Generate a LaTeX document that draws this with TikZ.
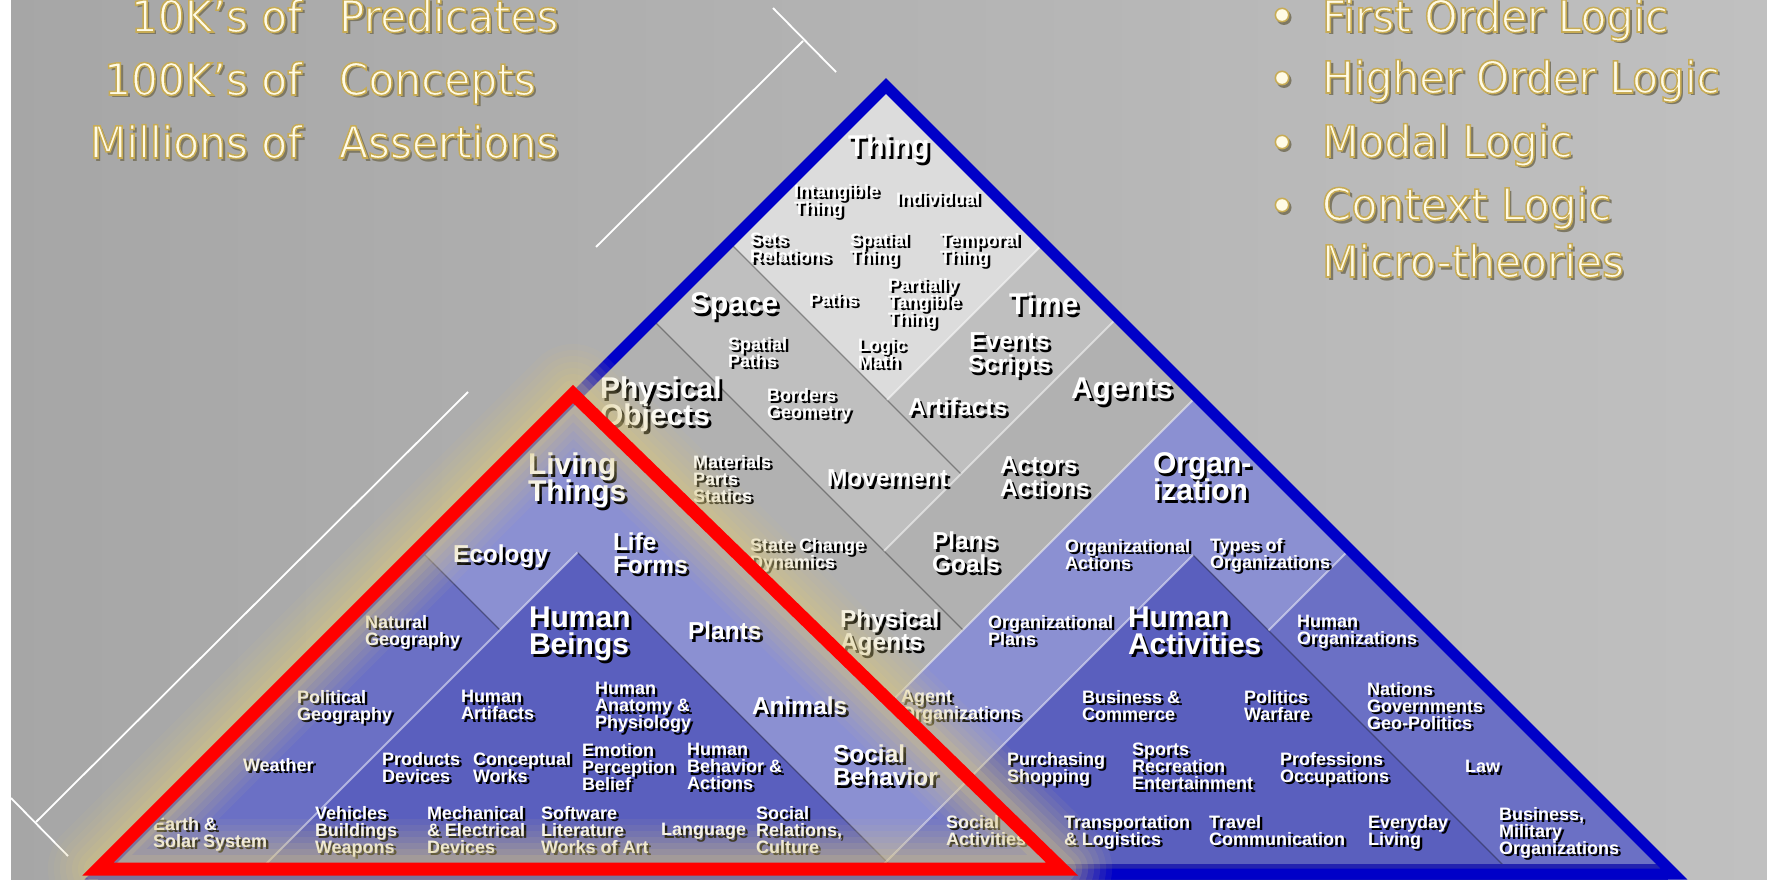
\documentclass[tikz,border=0pt]{standalone}
\usepackage{fontspec}
\setmainfont{Liberation Sans}
\newfontfamily\tfont[FakeStretch=0.96]{DejaVu Sans}
\definecolor{bgL}{RGB}{166,166,166}
\definecolor{bgR}{RGB}{192,192,192}
\definecolor{gThing}{RGB}{220,220,220}
\definecolor{gMid}{RGB}{191,191,191}
\definecolor{gLow}{RGB}{177,177,177}
\definecolor{bLight}{RGB}{139,144,210}
\definecolor{bMed}{RGB}{107,112,197}
\definecolor{bDark}{RGB}{90,95,190}
\definecolor{pyrBlue}{RGB}{0,0,200}
\definecolor{bandBlue}{RGB}{34,34,176}
\definecolor{glowc}{RGB}{218,200,130}
\definecolor{goldline}{RGB}{200,172,85}
\definecolor{cream}{RGB}{255,251,230}
\definecolor{gshadow}{RGB}{125,120,100}
\lineskiplimit=-50pt
\tikzset{
  lbl/.style={anchor=north west, inner sep=0pt, outer sep=0pt, align=left, text=white},
  big/.style={font=\bfseries\fontsize{30}{27}\selectfont},
  med/.style={font=\bfseries\fontsize{24.5}{23}\selectfont},
  sml/.style={font=\bfseries\fontsize{18}{17}\selectfont},
  gtxt/.style={inner sep=0pt, outer sep=0pt, font=\tfont\fontsize{44}{50}\selectfont},
  dk/.style={black, opacity=0.35, line width=1.2pt},
  lt/.style={white, opacity=0.5, line width=2pt},
  brk/.style={white, line width=1.8pt}
}
% one line of label text with its black drop shadow
\newcommand\sh[1]{\rlap{\raisebox{-2.7pt}[0pt][0pt]{\kern2.7pt\textcolor{black}{#1}}}#1}
% gold outlined text (fill + stroke rendering mode) with soft shadow
\newcommand\gold[1]{%
  \rlap{\kern3pt\raisebox{-3pt}[0pt][0pt]{\textcolor{gshadow}{#1}}}%
  \textcolor{cream}{\special{pdf:literal direct 2 Tr 0.784 0.675 0.333 RG 1.5 w}#1\special{pdf:literal direct 0 Tr 1 w}}}
\newcommand\lb[5]{\node[lbl,#4] (#1) at (#2,#3) {#5};}
\begin{document}
\begin{tikzpicture}[x=1pt,y=-1pt]
\useasboundingbox (0,0) rectangle (1767,880);
\shade[left color=bgL,right color=bgR] (0,0) rectangle (1767,880);
\fill[white] (0,0) rectangle (11,880);
% bracket lines
\draw[brk] (596,247) -- (803,41);
\draw[brk] (773,8) -- (836,72);
\draw[brk] (468,392) -- (36,822);
\draw[brk] (11,798) -- (68,856);
% pyramid cells in rotated (p,q) coordinates: p = x+y, q = x-y
\begin{scope}[x={(0.5pt,-0.5pt)},y={(0.5pt,0.5pt)}]
\clip (972,800)--(972,-760)--(2532,800)--cycle;
\fill[gLow] (900,-900)--(2700,-900)--(2700,900)--(900,900)--cycle;
\fill[gMid] (972,333)--(1435,333)--(1435,800)--(972,800)--cycle;
\fill[gThing] (972,487)--(1287,487)--(1287,800)--(972,800)--cycle;
\fill[bLight] (1593,-900)--(2700,-900)--(2700,900)--(1593,900)--cycle;
\fill[bLight] (900,-900)--(2700,-900)--(2700,186)--(900,186)--cycle;
\fill[bMed] (900,-900)--(1130,-900)--(1130,-130)--(900,-130)--cycle;
\fill[bDark] (1130,-900)--(2700,-900)--(2700,25)--(1130,25)--cycle;
\fill[bDark] (1748,-900)--(2700,-900)--(2700,638)--(1748,638)--cycle;
\fill[bDark!55!bLight] (1748,25)--(2700,25)--(2700,186)--(1748,186)--cycle;
\fill[bMed] (1899,638)--(2700,638)--(2700,900)--(1899,900)--cycle;
\draw[dk] (972,487)--(1435,487);
\draw[dk] (972,333)--(1593,333);
\draw[dk] (972,-130)--(1130,-130);
\draw[dk] (1130,25)--(1780,25);
\draw[dk] (1748,638)--(2400,638);
\draw[lt] (1287,800)--(1287,487);
\draw[lt] (1435,800)--(1435,333);
\draw[lt] (1593,800)--(1593,186);
\draw[lt] (1130,25)--(1130,-650);
\draw[lt] (1748,638)--(1748,0);
\draw[lt] (1899,800)--(1899,638);
\end{scope}
% labels
\lb{thing}{848}{135}{big}{\sh{Thing}}
\lb{space}{690}{293}{big}{\sh{Space}}
\lb{time}{1009}{293}{big}{\sh{Time}}
\lb{physobj}{600}{377}{big}{\sh{Physical}\\\sh{Objects}}
\lb{agents}{1071}{378}{big}{\sh{Agents}}
\lb{organ}{1153}{453}{big}{\sh{Organ-}\\\sh{ization}}
\lb{living}{528}{453}{big}{\sh{Living}\\\sh{Things}}
\lb{humbeings}{529}{607}{big}{\sh{Human}\\\sh{Beings}}
\lb{humact}{1128}{607}{big}{\sh{Human}\\\sh{Activities}}
\lb{events}{968}{333}{med,align=center}{\sh{Events}\\\sh{Scripts}}
\lb{artifacts}{908}{398}{med}{\sh{Artifacts}}
\lb{movement}{827}{470}{med}{\sh{Movement}}
\lb{actors}{1000}{457}{med}{\sh{Actors}\\\sh{Actions}}
\lb{plans}{932}{532}{med}{\sh{Plans}\\\sh{Goals}}
\lb{ecology}{453}{545}{med}{\sh{Ecology}}
\lb{lifeforms}{613}{533}{med}{\sh{Life}\\\sh{Forms}}
\lb{plants}{688}{622}{med}{\sh{Plants}}
\lb{physagents}{840}{610}{med}{\sh{Physical}\\\sh{Agents}}
\lb{animals}{752}{697}{med}{\sh{Animals}}
\lb{socbeh}{833}{745}{med}{\sh{Social}\\\sh{Behavior}}
\lb{intangible}{794}{184}{sml}{\sh{Intangible}\\\sh{Thing}}
\lb{individual}{896}{192}{sml}{\sh{Individual}}
\lb{sets}{750}{233}{sml}{\sh{Sets}\\\sh{Relations}}
\lb{spatialthing}{850}{233}{sml}{\sh{Spatial}\\\sh{Thing}}
\lb{temporal}{940}{233}{sml}{\sh{Temporal}\\\sh{Thing}}
\lb{paths}{809}{293}{sml}{\sh{Paths}}
\lb{partially}{888}{278}{sml}{\sh{Partially}\\\sh{Tangible}\\\sh{Thing}}
\lb{spatialpaths}{728}{337}{sml}{\sh{Spatial}\\\sh{Paths}}
\lb{logic}{858}{338}{sml}{\sh{Logic}\\\sh{Math}}
\lb{borders}{767}{388}{sml}{\sh{Borders}\\\sh{Geometry}}
\lb{materials}{693}{455}{sml}{\sh{Materials}\\\sh{Parts}\\\sh{Statics}}
\lb{statechange}{750}{538}{sml}{\sh{State Change}\\\sh{Dynamics}}
\lb{orgactions}{1065}{539}{sml}{\sh{Organizational}\\\sh{Actions}}
\lb{types}{1210}{538}{sml}{\sh{Types of}\\\sh{Organizations}}
\lb{orgplans}{988}{615}{sml}{\sh{Organizational}\\\sh{Plans}}
\lb{natgeo}{365}{615}{sml}{\sh{Natural}\\\sh{Geography}}
\lb{humorgs}{1297}{615}{sml}{\sh{Human}\\\sh{Organizations}}
\lb{polgeo}{297}{690}{sml}{\sh{Political}\\\sh{Geography}}
\lb{humart}{461}{690}{sml}{\sh{Human}\\\sh{Artifacts}}
\lb{anatomy}{595}{682}{sml}{\sh{Human}\\\sh{Anatomy \&}\\\sh{Physiology}}
\lb{agentorgs}{901}{690}{sml}{\sh{Agent}\\\sh{Organizations}}
\lb{business}{1082}{690}{sml}{\sh{Business \&}\\\sh{Commerce}}
\lb{politics}{1244}{690}{sml}{\sh{Politics}\\\sh{Warfare}}
\lb{nations}{1367}{682}{sml}{\sh{Nations}\\\sh{Governments}\\\sh{Geo-Politics}}
\lb{weather}{243}{758}{sml}{\sh{Weather}}
\lb{products}{382}{752}{sml}{\sh{Products}\\\sh{Devices}}
\lb{conceptual}{473}{752}{sml}{\sh{Conceptual}\\\sh{Works}}
\lb{emotion}{582}{743}{sml}{\sh{Emotion}\\\sh{Perception}\\\sh{Belief}}
\lb{humbeh}{687}{743}{sml}{\sh{Human}\\\sh{Behavior \&}\\\sh{Actions}}
\lb{purchasing}{1007}{752}{sml}{\sh{Purchasing}\\\sh{Shopping}}
\lb{sports}{1132}{743}{sml}{\sh{Sports}\\\sh{Recreation}\\\sh{Entertainment}}
\lb{professions}{1280}{752}{sml}{\sh{Professions}\\\sh{Occupations}}
\lb{law}{1465}{760}{sml}{\sh{Law}}
\lb{earth}{153}{817}{sml}{\sh{Earth \&}\\\sh{Solar System}}
\lb{vehicles}{315}{806}{sml}{\sh{Vehicles}\\\sh{Buildings}\\\sh{Weapons}}
\lb{mechanical}{427}{806}{sml}{\sh{Mechanical}\\\sh{\& Electrical}\\\sh{Devices}}
\lb{software}{541}{806}{sml}{\sh{Software}\\\sh{Literature}\\\sh{Works of Art}}
\lb{language}{661}{823}{sml}{\sh{Language}}
\lb{socrel}{756}{806}{sml}{\sh{Social}\\\sh{Relations,}\\\sh{Culture}}
\lb{socact}{946}{815}{sml}{\sh{Social}\\\sh{Activities}}
\lb{transport}{1064}{815}{sml}{\sh{Transportation}\\\sh{\& Logistics}}
\lb{travel}{1209}{815}{sml}{\sh{Travel}\\\sh{Communication}}
\lb{everyday}{1368}{815}{sml}{\sh{Everyday}\\\sh{Living}}
\lb{busmil}{1499}{807}{sml}{\sh{Business,}\\\sh{Military}\\\sh{Organizations}}
% blue outline and bottom band
\fill[bandBlue] (98,864) rectangle (1668,880);
\draw[pyrBlue, line width=11pt, line join=miter] (886,86)--(1674,874)--(98,874)--cycle;
% gold glow around the red triangle
\foreach \w/\o in {100/0.07,88/0.08,76/0.09,64/0.1,52/0.12,40/0.15,28/0.2}{
  \draw[glowc, line width=\w pt, opacity=\o, line join=round] (573,394)--(1062,869)--(98,869)--cycle;}
\draw[red, line width=13pt, line join=miter] (573,394)--(1062,869)--(98,869)--cycle;
% top texts
\node[gtxt,anchor=base east] (k10) at (302,32) {\gold{10K’s of}};
\node[gtxt,anchor=base west] (pred) at (339,32) {\gold{Predicates}};
\node[gtxt,anchor=base east] (k100) at (302,95) {\gold{100K’s of}};
\node[gtxt,anchor=base west] (conc) at (339,95) {\gold{Concepts}};
\node[gtxt,anchor=base east] (mill) at (302,158) {\gold{Millions of}};
\node[gtxt,anchor=base west] (asse) at (339,158) {\gold{Assertions}};
\foreach \yy in {15,78,142,205}{
  \fill[gshadow] (1284,\yy+2.5) circle (7.5);
  \fill[goldline] (1282,\yy) circle (7.5);
  \fill[cream] (1282,\yy) circle (5.8);}
\node[gtxt,anchor=base west] (fol) at (1322,32) {\gold{First Order Logic}};
\node[gtxt,anchor=base west] (hol) at (1322,93) {\gold{Higher Order Logic}};
\node[gtxt,anchor=base west] (modal) at (1322,157) {\gold{Modal Logic}};
\node[gtxt,anchor=base west] (ctx) at (1322,220) {\gold{Context Logic}};
\node[gtxt,anchor=base west] (micro) at (1322,277) {\gold{Micro-theories}};
\end{tikzpicture}
\end{document}
